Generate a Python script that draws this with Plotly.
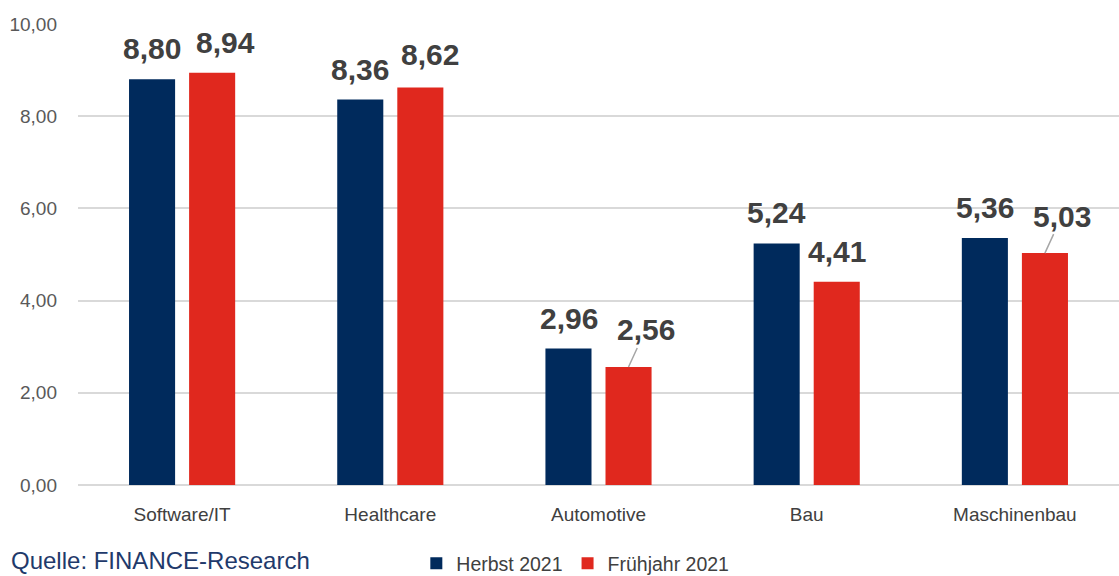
import plotly.graph_objects as go

categories = ["Software/IT", "Healthcare", "Automotive", "Bau", "Maschinenbau"]
herbst_2021 = [8.80, 8.36, 2.96, 5.24, 5.36]
fruehjahr_2021 = [8.94, 8.62, 2.56, 4.41, 5.03]
series_names = ["Herbst 2021", "Frühjahr 2021"]
y_ticks = [0, 2, 4, 6, 8, 10]

NAVY = "#002A5C"
RED = "#E0281E"
TXT = "#404040"
FONT = "Liberation Sans, Arial, sans-serif"

fig = go.Figure()
fig.add_trace(go.Bar(x=categories, y=herbst_2021, name=series_names[0],
                     marker=dict(color=NAVY, line=dict(width=0))))
fig.add_trace(go.Bar(x=categories, y=fruehjahr_2021, name=series_names[1],
                     marker=dict(color=RED, line=dict(width=0))))

def fmt(v):
    return f"{v:.2f}".replace(".", ",")

lab_font = dict(family=FONT, size=30, color=TXT, weight="bold")
# label placement tweaks (style only)
leader = {2: (17, -37), 4: (17, -37)}
red_extra_shift = {0: 13, 1: 10}
for i, c in enumerate(categories):
    for vals, shift, is_red in ((herbst_2021, -30, False), (fruehjahr_2021, 30, True)):
        v = vals[i]
        if is_red and i in leader:
            ax, ay = leader[i]
            fig.add_annotation(x=c, y=v, xshift=shift, text=fmt(v), showarrow=True,
                               arrowhead=0, arrowwidth=1.5, arrowcolor="#A6A6A6",
                               ax=ax, ay=ay, standoff=0, font=lab_font)
        else:
            xs = shift + (red_extra_shift.get(i, 0) if is_red else 0)
            ys = 12 + (3 if (is_red and i == 1) else 0)
            fig.add_annotation(x=c, y=v, xshift=xs, yshift=ys, text=fmt(v), showarrow=False,
                               yanchor="bottom", font=lab_font)

fig.add_annotation(xref="paper", yref="paper", x=-0.066, y=-0.197, xanchor="left", yanchor="bottom",
                   text="Quelle: FINANCE-Research", showarrow=False,
                   font=dict(family=FONT, size=24, color="#1F3A6B"))

fig.update_layout(
    width=1119, height=576,
    margin=dict(l=78, r=0, t=24, b=91, autoexpand=False),
    plot_bgcolor="white", paper_bgcolor="white",
    barmode="group", bargap=0.423, bargroupgap=0.233,
    separators=",.",
    font=dict(family=FONT, color=TXT),
    showlegend=True,
    legend=dict(orientation="h", x=0.325, y=-0.128, xanchor="left", yanchor="top",
                font=dict(family=FONT, size=19.5, color=TXT), itemwidth=30,
                traceorder="normal", bgcolor="rgba(0,0,0,0)", tracegroupgap=0),
    xaxis=dict(showline=False, ticks="", tickfont=dict(family=FONT, size=19, color=TXT),
               showgrid=False, ticklabelstandoff=16),
    yaxis=dict(range=[0, 10], tickvals=y_ticks, tickformat=".2f", showgrid=True,
               gridcolor="#D9D9D9", gridwidth=2, zeroline=True, zerolinecolor="#D9D9D9",
               zerolinewidth=2, showline=False, ticks="", ticklabelstandoff=20,
               tickfont=dict(family=FONT, size=19, color="#595959")),
)

fig.write_html("out.html")
